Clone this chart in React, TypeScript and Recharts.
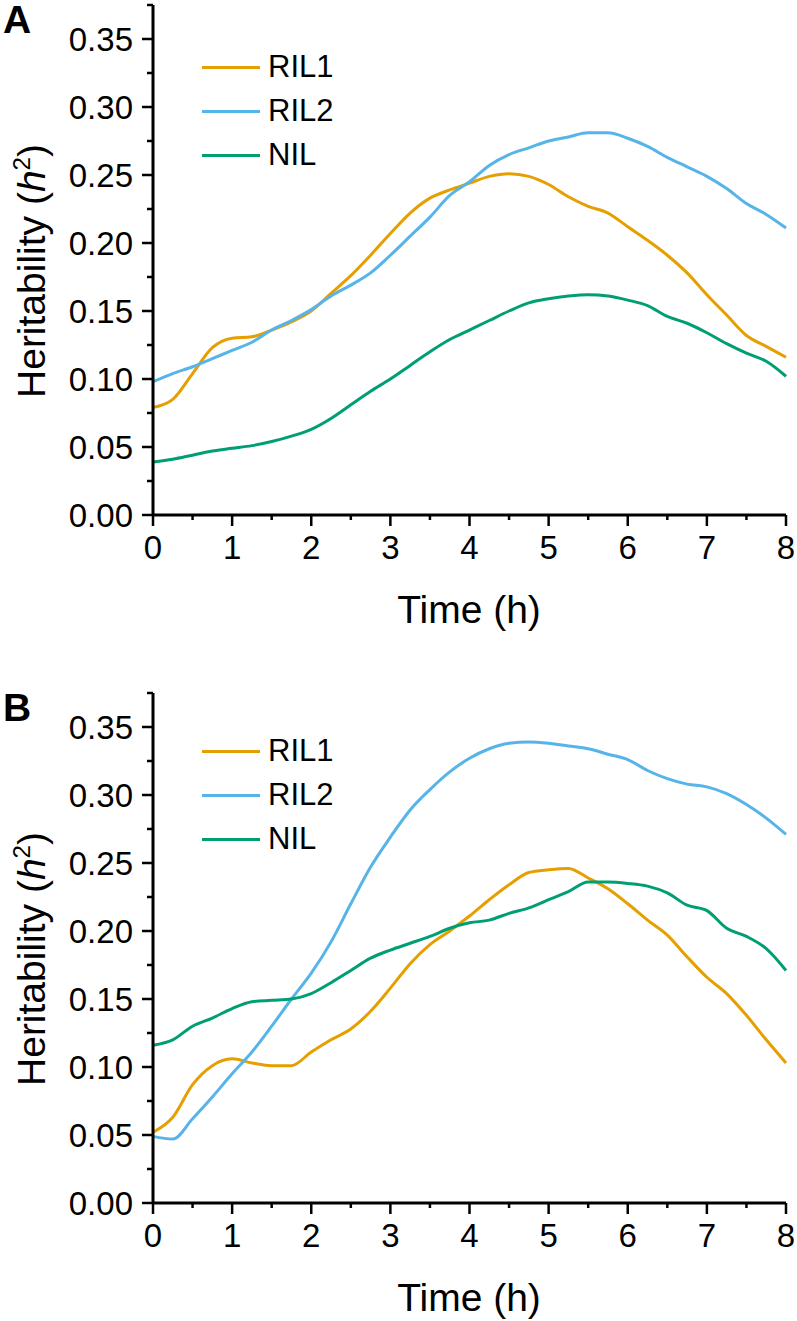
import React from 'react'
import { LineChart, Line, XAxis, YAxis } from 'recharts'

const FONT = '"Liberation Sans", Arial, Helvetica, sans-serif'

// hours, sampled every 15 min
const times = [
  0, 0.25, 0.5, 0.75, 1, 1.25, 1.5, 1.75, 2, 2.25, 2.5, 2.75, 3, 3.25, 3.5, 3.75, 4,
  4.25, 4.5, 4.75, 5, 5.25, 5.5, 5.75, 6, 6.25, 6.5, 6.75, 7, 7.25, 7.5, 7.75, 8,
]

// panel A
const ril1A = [
  0.079, 0.085, 0.104, 0.123, 0.13, 0.131, 0.136, 0.142, 0.15, 0.163, 0.176, 0.191, 0.207,
  0.222, 0.233, 0.239, 0.244, 0.249, 0.251, 0.249, 0.243, 0.234, 0.227, 0.222, 0.212, 0.202,
  0.191, 0.178, 0.162, 0.147, 0.132, 0.124, 0.116,
]
const ril2A = [
  0.098, 0.104, 0.109, 0.115, 0.121, 0.127, 0.136, 0.143, 0.151, 0.161, 0.169, 0.178, 0.191,
  0.205, 0.219, 0.235, 0.245, 0.257, 0.265, 0.27, 0.275, 0.278, 0.281, 0.281, 0.277, 0.271,
  0.263, 0.256, 0.249, 0.24, 0.229, 0.221, 0.211,
]
const nilA = [
  0.039, 0.041, 0.044, 0.047, 0.049, 0.051, 0.054, 0.058, 0.063, 0.071, 0.081, 0.091, 0.1,
  0.11, 0.12, 0.129, 0.136, 0.143, 0.15, 0.156, 0.159, 0.161, 0.162, 0.161, 0.158, 0.154,
  0.146, 0.141, 0.134, 0.126, 0.119, 0.113, 0.102,
]

// panel B
const ril1B = [
  0.052, 0.063, 0.087, 0.101, 0.106, 0.103, 0.101, 0.101, 0.111, 0.12, 0.128, 0.141, 0.158,
  0.176, 0.19, 0.2, 0.211, 0.223, 0.234, 0.243, 0.245, 0.246, 0.239, 0.231, 0.22, 0.208,
  0.197, 0.181, 0.166, 0.154, 0.138, 0.12, 0.103,
]
const ril2B = [
  0.049, 0.047, 0.062, 0.078, 0.095, 0.111, 0.13, 0.15, 0.169, 0.192, 0.22, 0.247, 0.269,
  0.289, 0.304, 0.317, 0.327, 0.334, 0.338, 0.339, 0.338, 0.336, 0.334, 0.33, 0.326, 0.318,
  0.312, 0.308, 0.306, 0.301, 0.293, 0.283, 0.271,
]
const nilB = [
  0.116, 0.12, 0.13, 0.136, 0.143, 0.148, 0.149, 0.15, 0.154, 0.162, 0.171, 0.18, 0.186,
  0.191, 0.196, 0.202, 0.206, 0.208, 0.213, 0.217, 0.223, 0.229, 0.236, 0.236, 0.235, 0.233,
  0.228, 0.219, 0.215, 0.202, 0.196, 0.187, 0.171,
]

const seriesNames = ['RIL1', 'RIL2', 'NIL']
const seriesColors = ['#E69F00', '#56B4E9', '#009E73']

const xTicks = [0, 0.5, 1, 1.5, 2, 2.5, 3, 3.5, 4, 4.5, 5, 5.5, 6, 6.5, 7, 7.5, 8]
const yTicks = [
  0, 0.025, 0.05, 0.075, 0.1, 0.125, 0.15, 0.175, 0.2, 0.225, 0.25, 0.275, 0.3, 0.325, 0.35,
  0.375,
]

function XTick(props: any) {
  const { x, y, payload } = props
  const v = payload.value
  const major = Number.isInteger(v)
  return (
    <g>
      <line x1={x} x2={x} y1={y} y2={y + (major ? 11 : 5)} stroke="#000" strokeWidth={2.5} />
      {major && (
        <text x={x} y={y + 44} textAnchor="middle" fontSize={33} fontFamily={FONT} fill="#000">
          {v}
        </text>
      )}
    </g>
  )
}

function YTick(props: any) {
  const { x, y, payload } = props
  const v = payload.value
  const major = Math.round(v * 1000) % 50 === 0 && v <= 0.35
  return (
    <g>
      <line x1={x - (major ? 11 : 6)} x2={x} y1={y} y2={y} stroke="#000" strokeWidth={2.5} />
      {major && (
        <text x={x - 20} y={y} dy="0.36em" textAnchor="end" fontSize={33} fontFamily={FONT} fill="#000">
          {v.toFixed(2)}
        </text>
      )}
    </g>
  )
}

function YTitle() {
  return (
    <text
      x={45}
      y={271}
      transform="rotate(-90, 45, 271)"
      textAnchor="middle"
      fontSize={39}
      fontFamily={FONT}
      fill="#000"
    >
      Heritability (<tspan fontStyle="italic">h</tspan>
      <tspan dy={-15} fontSize={24}>2</tspan>
      <tspan dy={15}>)</tspan>
    </text>
  )
}

function XTitle() {
  return (
    <text x={469} y={623} textAnchor="middle" fontSize={39} fontFamily={FONT} fill="#000">
      Time (h)
    </text>
  )
}

function Panel({ letter, series, legendTop }: { letter: string; series: number[][]; legendTop: number }) {
  const data = times.map((t, i) => ({
    t,
    RIL1: series[0][i],
    RIL2: series[1][i],
    NIL: series[2][i],
  }))
  return (
    <div style={{ position: 'relative', width: 797, height: 660 }}>
      <LineChart width={797} height={660} data={data} margin={{ top: 5, right: 11, bottom: 45, left: 0 }}>
        <XAxis
          dataKey="t"
          type="number"
          domain={[0, 8]}
          ticks={xTicks}
          interval={0}
          height={100}
          tickSize={0}
          tickMargin={0}
          tickLine={false}
          tick={<XTick />}
          axisLine={{ stroke: '#000', strokeWidth: 3 }}
          label={<XTitle />}
        />
        <YAxis
          type="number"
          domain={[0, 0.375]}
          ticks={yTicks}
          interval={0}
          width={153}
          tickSize={0}
          tickMargin={0}
          tickLine={false}
          tick={<YTick />}
          axisLine={{ stroke: '#000', strokeWidth: 3 }}
          label={<YTitle />}
        />
        {seriesNames.map((name, i) => (
          <Line
            key={name}
            type="monotone"
            dataKey={name}
            stroke={seriesColors[i]}
            strokeWidth={3}
            dot={false}
            isAnimationActive={false}
          />
        ))}
      </LineChart>
      <div
        style={{
          position: 'absolute',
          left: 3,
          top: 0,
          fontFamily: FONT,
          fontWeight: 'bold',
          fontSize: 39,
          lineHeight: '40px',
        }}
      >
        {letter}
      </div>
      <div style={{ position: 'absolute', left: 202, top: legendTop, fontFamily: FONT }}>
        {seriesNames.map((name, i) => (
          <div key={name} style={{ display: 'flex', alignItems: 'center', height: 44 }}>
            <div style={{ width: 58, height: 3, background: seriesColors[i] }} />
            <span style={{ fontSize: 31, marginLeft: 8, color: '#000' }}>{name}</span>
          </div>
        ))}
      </div>
    </div>
  )
}

export default function App() {
  return (
    <div
      style={{
        position: 'absolute',
        left: 0,
        top: 0,
        width: 797,
        height: 1321,
        background: '#fff',
        overflow: 'hidden',
      }}
    >
      <Panel letter="A" series={[ril1A, ril2A, nilA]} legendTop={45} />
      <div style={{ position: 'absolute', left: 0, top: 688 }}>
        <Panel letter="B" series={[ril1B, ril2B, nilB]} legendTop={41} />
      </div>
    </div>
  )
}
